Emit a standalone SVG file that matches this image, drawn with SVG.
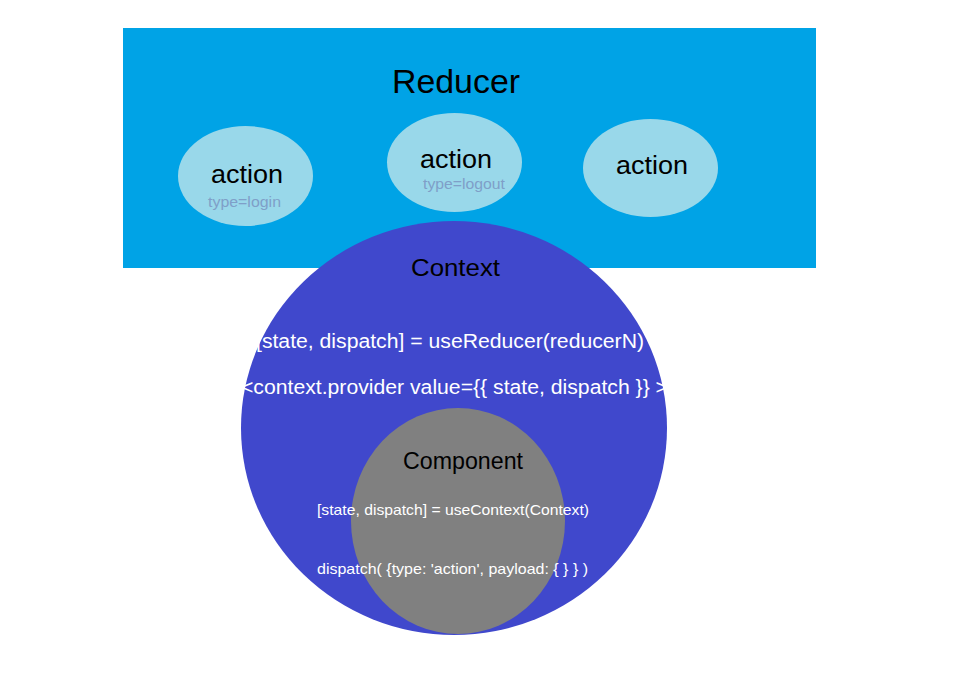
<svg xmlns="http://www.w3.org/2000/svg" width="977" height="689" viewBox="0 0 977 689">
<style>
text{font-family:"Liberation Sans",Arial,sans-serif;text-anchor:middle}
.act{fill:#99D8EA}
.at{font-size:25px;fill:#000}
.ty{font-size:14px;fill:#7F9FC8}
.wl{font-size:19.5px;fill:#fff}
.ws{font-size:14.5px;fill:#fff}
</style>
<rect width="977" height="689" fill="#fff"/>
<g id="reducer">
<rect x="123" y="28" width="693" height="240" fill="#00A3E6"/>
<text x="456" y="93" font-size="33" fill="#000" textLength="128" lengthAdjust="spacingAndGlyphs">Reducer</text>
</g>
<g id="action1">
<ellipse class="act" cx="245.5" cy="176" rx="67.5" ry="50"/>
<text class="at" x="247" y="183" textLength="72" lengthAdjust="spacingAndGlyphs">action</text>
<text class="ty" x="244.5" y="207" textLength="73" lengthAdjust="spacingAndGlyphs">type=login</text>
</g>
<g id="action2">
<ellipse class="act" cx="454.5" cy="162.5" rx="67.5" ry="49.5"/>
<text class="at" x="456" y="168" textLength="72" lengthAdjust="spacingAndGlyphs">action</text>
<text class="ty" x="464" y="189" textLength="82" lengthAdjust="spacingAndGlyphs">type=logout</text>
</g>
<g id="action3">
<ellipse class="act" cx="650.5" cy="168" rx="67.5" ry="49"/>
<text class="at" x="652" y="174" textLength="72" lengthAdjust="spacingAndGlyphs">action</text>
</g>
<g id="context">
<ellipse cx="454" cy="428" rx="213" ry="207" fill="#4048CC"/>
<text x="455.5" y="276" font-size="23" fill="#000" textLength="89" lengthAdjust="spacingAndGlyphs">Context</text>
<text class="wl" x="450" y="348" textLength="388" lengthAdjust="spacingAndGlyphs">[state, dispatch] = useReducer(reducerN)</text>
<text class="wl" x="454.5" y="394" textLength="427" lengthAdjust="spacingAndGlyphs">&lt;context.provider value={{ state, dispatch }} &gt;</text>
</g>
<g id="component">
<ellipse cx="458" cy="521" rx="107" ry="113" fill="#808080"/>
<text x="463" y="469" font-size="23" fill="#000" textLength="120" lengthAdjust="spacingAndGlyphs">Component</text>
<text class="ws" x="453" y="515" textLength="272" lengthAdjust="spacingAndGlyphs">[state, dispatch] = useContext(Context)</text>
<text class="ws" x="452.5" y="574" textLength="271" lengthAdjust="spacingAndGlyphs">dispatch( {type: 'action', payload: { } } )</text>
</g>
<g id="connectors"/>
</svg>
